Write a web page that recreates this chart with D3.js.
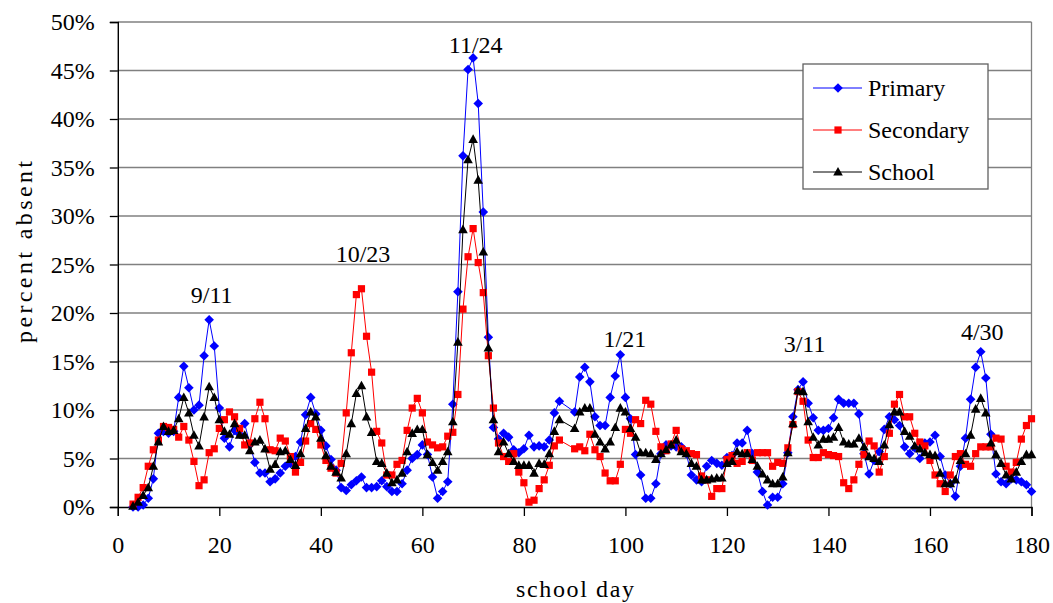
<!DOCTYPE html>
<html>
<head>
<meta charset="utf-8">
<script src="https://cdn.jsdelivr.net/npm/d3@7"></script>
<style>
  body { margin: 0; background: #fff; }
  text { font-family: "Liberation Serif", "Times New Roman", "DejaVu Serif", serif; fill: #000; }
</style>
</head>
<body>
<svg id="chart" width="1053" height="603"></svg>
<script>
// school days 3..180
var days = d3.range(3, 181);

// percent absent, one value per school day (null = no data)
var primary = [
  0.0, 0.0, 0.2, 0.9, 2.9, 7.6, 7.8, 7.6, 7.8, 11.3,
  14.5, 12.3, 10.0, 10.5, 15.6, 19.3, 16.6, 10.2, 7.1, 6.2,
  7.9, 7.5, 8.6, 6.5, 4.6, 3.5, 3.5, 2.6, 2.9, 3.5,
  4.2, 4.5, 5.2, 6.7, 9.5, 11.3, 9.6, 7.9, 6.3, 4.9,
  3.8, 2.0, 1.7, 2.3, 2.7, 3.1, 2.0, 2.0, 2.1, 2.7,
  2.1, 1.6, 1.6, 2.4, 3.8, 5.0, 5.4, 6.4, 5.4, 3.1,
  0.9, 1.6, 2.6, 10.6, 22.2, 36.2, 45.1, 46.3, 41.6, 30.4,
  17.5, 8.2, 7.0, 7.6, 7.2, 5.9, 5.6, 6.0, 7.4, 6.2,
  6.3, 6.2, 6.9, 9.7, 10.9, null, null, 9.8, 13.4, 14.4,
  12.9, 9.3, 8.4, 8.4, 11.3, 13.5, 15.7, 11.3, 9.1, 5.4,
  3.3, 0.9, 0.9, 2.4, 5.5, 6.4, 6.3, 6.2, 6.2, 5.5,
  3.3, 2.8, 2.6, 4.2, 4.8, 4.5, 4.3, 5.1, 5.3, 6.6,
  6.6, 7.9, 5.5, 3.6, 1.6, 0.2, 1.0, 1.0, 2.4, 5.6,
  9.3, 12.1, 12.9, 10.7, 9.2, 7.9, 7.9, 8.1, 9.2, 11.1,
  10.7, 10.7, 10.7, 9.6, 5.5, 3.4, 4.8, 5.7, 8.0, 9.3,
  9.0, 8.4, 6.2, 5.5, 6.1, 5.0, 6.6, 6.7, 7.4, 5.2,
  3.3, 2.4, 1.1, 4.2, 7.1, 11.1, 14.4, 16.0, 13.3, 7.5,
  3.4, 2.6, 2.4, 2.9, 2.8, 2.6, 2.3, 1.6
];

var secondary = [
  0.3, 1.0, 2.0, 4.2, 5.9, 6.9, 8.3, 8.2, 8.0, 7.2,
  8.3, 6.9, 4.7, 2.2, 2.8, 5.6, 6.0, 8.1, 9.0, 9.8,
  9.3, 8.1, 6.4, 6.6, 9.1, 10.8, 9.1, 5.9, 5.8, 7.1,
  6.8, 5.2, 3.6, 4.6, 6.8, 8.6, 8.0, 6.4, 4.8, 4.0,
  3.5, 4.5, 9.7, 15.9, 21.9, 22.5, 17.6, 13.9, 7.8, 6.6,
  3.3, 3.3, 4.4, 4.8, 7.9, 10.2, 11.2, 9.7, 6.7, 6.4,
  6.1, 6.2, 7.3, 7.7, 11.6, 20.4, 25.8, 28.7, 25.2, 22.1,
  15.6, 10.2, 6.6, 5.2, 4.7, 5.5, 3.6, 2.5, 0.5, 0.7,
  1.9, 2.8, 4.3, 6.3, 6.9, null, null, 6.0, 6.2, 5.8,
  7.5, 5.9, 5.2, 3.5, 2.7, 2.7, 4.4, 8.0, 7.6, 9.0,
  8.6, 11.0, 10.6, 7.8, 6.2, 5.8, 6.5, 7.9, 6.0, 5.8,
  5.5, 5.4, 3.2, 2.8, 1.1, 1.9, 1.9, 4.9, 5.3, 4.5,
  4.7, 5.6, 4.8, 5.6, 5.6, 5.6, 4.2, 4.6, 4.5, 6.1,
  8.5, 11.9, 10.9, 6.9, 5.1, 5.1, 5.6, 5.4, 5.3, 5.2,
  2.5, 1.9, 2.8, 4.4, 5.4, 6.8, 6.3, 3.6, 5.2, 7.6,
  10.6, 11.6, 9.3, 9.3, 7.6, 6.7, 6.3, 4.8, 3.3, 2.4,
  1.6, 3.3, 5.2, 5.5, 4.4, 4.2, 5.5, 6.2, 6.2, 6.2,
  7.1, 7.0, 4.2, 3.6, 4.6, 7.0, 8.4, 9.1
];

var school = [
  0.1, 0.5, 1.2, 2.0, 4.2, 6.7, 8.3, 7.8, 7.9, 9.1,
  11.3, 9.7, 7.4, 6.3, 9.3, 12.4, 11.3, 9.0, 7.8, 7.5,
  8.6, 7.4, 7.4, 5.8, 6.7, 6.9, 6.0, 3.9, 4.4, 5.7,
  5.8, 4.9, 4.3, 5.5, 8.1, 9.8, 9.3, 7.1, 5.3, 4.2,
  3.6, 3.0, 5.5, 8.6, 11.7, 12.5, 9.3, 7.7, 4.7, 4.5,
  3.5, 2.5, 2.8, 3.5, 5.7, 7.6, 8.0, 8.0, 5.4, 4.6,
  3.8, 4.7, 5.7, 8.8, 17.0, 28.6, 35.8, 37.9, 33.7, 26.3,
  16.4, 9.0, 5.7, 6.7, 5.5, 4.7, 4.3, 4.3, 4.3, 3.5,
  4.5, 4.4, 5.5, 7.8, 9.0, null, null, 8.1, 9.8, 10.2,
  10.2, 7.5, 6.7, 6.0, 6.7, 8.2, 10.2, 9.8, 8.1, 7.2,
  5.6, 5.6, 5.5, 4.9, 5.5, 5.9, 6.4, 6.9, 5.7, 5.5,
  4.5, 4.2, 2.8, 2.8, 2.9, 3.0, 3.0, 4.5, 4.7, 5.7,
  5.5, 5.5, 4.9, 4.2, 3.4, 2.8, 2.4, 2.4, 3.1, 5.6,
  8.6, 12.0, 11.9, 8.8, 7.2, 6.4, 7.0, 7.0, 7.2, 8.2,
  6.7, 6.5, 6.5, 7.1, 6.2, 5.2, 5.0, 4.7, 6.4, 8.5,
  9.8, 9.8, 7.8, 7.3, 6.3, 6.0, 5.6, 5.4, 5.3, 3.5,
  2.4, 2.4, 2.8, 4.8, 5.5, 7.4, 10.1, 11.2, 9.7, 6.6,
  5.4, 4.5, 3.3, 2.9, 3.6, 4.7, 5.4, 5.4
];

var seriesNames = ["Primary", "Secondary", "School"];
var seriesColors = ["#0000ff", "#ff0000", "#000000"];

var xTicks = [0, 20, 40, 60, 80, 100, 120, 140, 160, 180];
var yTicks = [0, 5, 10, 15, 20, 25, 30, 35, 40, 45, 50];

// date labels over the peaks: [label, school day, percent]
var peakLabels = [
  ["9/11", 18.5, 21.0],
  ["10/23", 48.3, 25.3],
  ["11/24", 70.5, 46.8],
  ["1/21", 99.9, 16.5],
  ["3/11", 135.3, 16.0],
  ["4/30", 170.3, 17.2]
];

var svg = d3.select("#chart");

var x = d3.scaleLinear().domain([0, 180]).range([117.8, 1031.5]);
var y = d3.scaleLinear().domain([0, 50]).range([507, 22]);

// gridlines
svg.append("g")
    .attr("class", "grid")
  .selectAll("line")
  .data(yTicks.slice(1))
  .enter().append("line")
    .attr("x1", x(0))
    .attr("x2", x(180))
    .attr("y1", function(d) { return y(d); })
    .attr("y2", function(d) { return y(d); })
    .attr("stroke", "#808080")
    .attr("stroke-width", 1.3);

// right border of plot area
svg.append("line")
    .attr("x1", x(180)).attr("x2", x(180))
    .attr("y1", y(50)).attr("y2", y(0))
    .attr("stroke", "#808080")
    .attr("stroke-width", 1.3);

// axes
var xAxis = svg.append("g")
    .attr("transform", "translate(0," + y(0) + ")")
    .call(d3.axisBottom(x).tickValues(xTicks).tickSize(9).tickPadding(4).tickFormat(d3.format("d")));

var yAxis = svg.append("g")
    .attr("transform", "translate(" + x(0) + ",0)")
    .call(d3.axisLeft(y).tickValues(yTicks).tickSize(8).tickPadding(15).tickFormat(function(d) { return d + "%"; }));

[xAxis, yAxis].forEach(function(a) {
  a.attr("font-family", null);
  a.select(".domain").attr("stroke", "#000").attr("stroke-width", 1.4);
  a.selectAll(".tick line").attr("stroke", "#000").attr("stroke-width", 1.3);
  a.selectAll("text")
    .attr("font-size", 24)
    .attr("fill", "#000");
});
xAxis.selectAll("text").attr("dy", "1.38em");

// series
var allSeries = [primary, secondary, school];

var line = d3.line()
    .x(function(d) { return x(d.day); })
    .y(function(d) { return y(d.v); });

var markerPaths = [
  "M0,-4.8L4.8,0L0,4.8L-4.8,0Z",
  "M-3.6,-3.6h7.2v7.2h-7.2Z",
  "M0,-5L4.8,3.6L-4.8,3.6Z"
];

allSeries.forEach(function(vals, i) {
  var pts = days.map(function(d, k) { return { day: d, v: vals[k] }; })
      .filter(function(p) { return p.v !== null; });
  var g = svg.append("g").attr("class", "series-" + i);

  g.append("path")
      .datum(pts)
      .attr("d", line)
      .attr("fill", "none")
      .attr("stroke", seriesColors[i])
      .attr("stroke-width", 1);

  g.selectAll(".mk")
    .data(pts)
    .enter().append("path")
      .attr("class", "mk")
      .attr("d", markerPaths[i])
      .attr("transform", function(p) { return "translate(" + x(p.day) + "," + y(p.v) + ")"; })
      .attr("fill", seriesColors[i]);
});

// peak labels
svg.selectAll(".peak")
  .data(peakLabels)
  .enter().append("text")
    .attr("class", "peak")
    .attr("x", function(d) { return x(d[1]); })
    .attr("y", function(d) { return y(d[2]); })
    .attr("text-anchor", "middle")
    .attr("font-size", 24)
    .text(function(d) { return d[0]; });

// axis titles
svg.append("text")
    .attr("x", 575)
    .attr("y", 597)
    .attr("text-anchor", "middle")
    .attr("font-size", 24)
    .attr("textLength", 118)
    .attr("lengthAdjust", "spacing")
    .text("school day");

svg.append("text")
    .attr("transform", "translate(32,252) rotate(-90)")
    .attr("text-anchor", "middle")
    .attr("font-size", 24)
    .attr("textLength", 182)
    .attr("lengthAdjust", "spacing")
    .text("percent absent");

// legend
var legend = svg.append("g").attr("transform", "translate(803,64)");

legend.append("rect")
    .attr("width", 185)
    .attr("height", 125)
    .attr("fill", "#fff")
    .attr("stroke", "#606060")
    .attr("stroke-width", 1.3);

var rows = legend.selectAll(".row")
  .data(seriesNames)
  .enter().append("g")
    .attr("class", "row")
    .attr("transform", function(d, i) { return "translate(0," + (24 + i * 42) + ")"; });

rows.append("line")
    .attr("x1", 10).attr("x2", 59)
    .attr("stroke", function(d, i) { return seriesColors[i]; })
    .attr("stroke-width", 1);

rows.append("path")
    .attr("d", function(d, i) { return markerPaths[i]; })
    .attr("transform", "translate(35,0)")
    .attr("fill", function(d, i) { return seriesColors[i]; });

rows.append("text")
    .attr("x", 65)
    .attr("dy", "0.35em")
    .attr("font-size", 24)
    .text(function(d) { return d; });
</script>
</body>
</html>
